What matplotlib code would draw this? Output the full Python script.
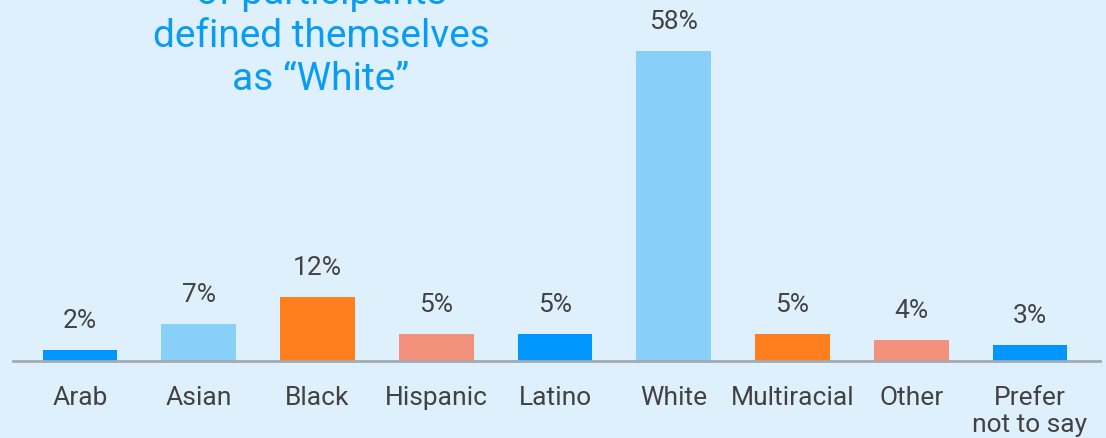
import matplotlib
matplotlib.use("Agg")
import matplotlib.pyplot as plt

categories = ["Arab", "Asian", "Black", "Hispanic", "Latino", "White", "Multiracial", "Other", "Prefer\nnot to say"]
values = [2, 7, 12, 5, 5, 58, 5, 4, 3]
labels = ["2%", "7%", "12%", "5%", "5%", "58%", "5%", "4%", "3%"]
colors = ["#0096FF", "#88D0F7", "#FF7F1F", "#F4917C", "#0096FF", "#88D0F7", "#FF7F1F", "#F4917C", "#0096FF"]
title_lines = ["of participants", "defined themselves", "as \u201cWhite\u201d"]

W, H = 1106, 439
bg = "#DFF0FD"
fam = "Roboto"
plt.rcParams['font.family'] = [fam, 'DejaVu Sans']

fig = plt.figure(figsize=(W / 100, H / 100), dpi=100, facecolor=bg)
base_px = 362
px_per_unit = 118.75
c0 = 80
left_px, right_px = 13, 1100
ax = fig.add_axes([left_px / W, (H - base_px) / H, (right_px - left_px) / W, base_px / H])
ax.set_facecolor(bg)
ax.set_xlim((left_px - c0) / px_per_unit, (right_px - c0) / px_per_unit)
ax.set_ylim(0, base_px / 5.34)

x = list(range(len(categories)))
ax.bar(x, values, width=0.63, color=colors, zorder=2)
for xi, v, lab in zip(x, values, labels):
    ax.annotate(lab, (xi, v), xytext=(0, 13), textcoords="offset points",
                ha="center", va="bottom", fontsize=19, color="#424242", fontweight="normal")

for s in ["top", "right", "left"]:
    ax.spines[s].set_visible(False)
ax.spines["bottom"].set_color("#A3AAB2")
ax.spines["bottom"].set_linewidth(2)
ax.set_yticks([])
ax.set_xticks(x)
ax.set_xticklabels(categories, fontsize=19, color="#424242", fontweight="normal", linespacing=1.12)
ax.tick_params(axis="x", length=0, pad=17.5)

baselines = [4, 47, 90]
for line, b in zip(title_lines, baselines):
    fig.text(321 / W, 1 - b / H, line, ha="center", va="baseline", fontsize=28,
             color="#0A9BF5", fontweight="normal")

fig.savefig("out.png", dpi=100, facecolor=bg)
